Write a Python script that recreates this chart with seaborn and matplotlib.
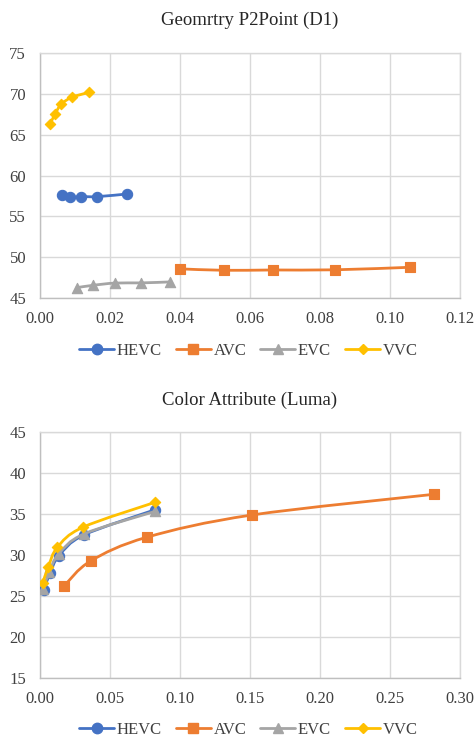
import numpy as np
import pandas as pd
import seaborn as sns
import matplotlib
matplotlib.use("Agg")
import matplotlib.pyplot as plt
from matplotlib.path import Path
from matplotlib.patches import PathPatch
from matplotlib.lines import Line2D
from matplotlib.ticker import FormatStrFormatter, MultipleLocator

# ---- Geometry P2Point (D1): bitrate vs PSNR ----
geo_hevc_x = [0.0064, 0.0085, 0.0116, 0.0164, 0.0248]
geo_hevc_y = [57.62, 57.32, 57.42, 57.42, 57.74]
geo_avc_x = [0.0400, 0.0526, 0.0665, 0.0842, 0.1058]
geo_avc_y = [48.60, 48.42, 48.46, 48.48, 48.79]
geo_evc_x = [0.0105, 0.0150, 0.0214, 0.0288, 0.0370]
geo_evc_y = [46.30, 46.58, 46.86, 46.88, 47.00]
geo_vvc_x = [0.0029, 0.0043, 0.0061, 0.0091, 0.0140]
geo_vvc_y = [66.29, 67.51, 68.73, 69.55, 70.16]

# ---- Color attribute (Luma) ----
luma_hevc_x = [0.0026, 0.0071, 0.0136, 0.0314, 0.0821]
luma_hevc_y = [25.77, 27.80, 29.96, 32.48, 35.55]
luma_avc_x = [0.0174, 0.0362, 0.0762, 0.1512, 0.2814]
luma_avc_y = [26.30, 29.31, 32.20, 34.91, 37.44]
luma_evc_x = [0.0024, 0.0067, 0.0133, 0.0314, 0.0821]
luma_evc_y = [25.95, 27.99, 30.16, 32.60, 35.35]
luma_vvc_x = [0.0019, 0.0060, 0.0124, 0.0305, 0.0821]
luma_vvc_y = [26.59, 28.62, 30.98, 33.41, 36.46]

codecs = ["HEVC", "AVC", "EVC", "VVC"]
colors = {"HEVC": "#4472C4", "AVC": "#ED7D31", "EVC": "#A5A5A5", "VVC": "#FFC000"}
markers = {"HEVC": "o", "AVC": "s", "EVC": "^", "VVC": "D"}
msizes = {"HEVC": 55, "AVC": 55, "EVC": 55, "VVC": 28}

geo = {
    "HEVC": (geo_hevc_x, geo_hevc_y), "AVC": (geo_avc_x, geo_avc_y),
    "EVC": (geo_evc_x, geo_evc_y), "VVC": (geo_vvc_x, geo_vvc_y),
}
luma = {
    "HEVC": (luma_hevc_x, luma_hevc_y), "AVC": (luma_avc_x, luma_avc_y),
    "EVC": (luma_evc_x, luma_evc_y), "VVC": (luma_vvc_x, luma_vvc_y),
}

sns.set_theme(style="white")
plt.rcParams["font.family"] = ["Liberation Serif", "DejaVu Serif"]

GRID = "#d9d9d9"
TEXT = "#404040"


def smooth_path(xs, ys):
    """Cubic Bezier through the points (Catmull-Rom style smoothing)."""
    p = np.column_stack([xs, ys]).astype(float)
    n = len(p)
    verts = [p[0]]
    codes = [Path.MOVETO]
    for i in range(n - 1):
        p0 = p[i - 1] if i > 0 else p[i]
        p1, p2 = p[i], p[i + 1]
        p3 = p[i + 2] if i + 2 < n else p[i + 1]
        c1 = p1 + (p2 - p0) / 6.0
        c2 = p2 - (p3 - p1) / 6.0
        verts += [c1, c2, p2]
        codes += [Path.CURVE4] * 3
    return Path(verts, codes)


def draw_panel(ax, data, title, xmax, xstep, ymin, ymax):
    for k, name in enumerate(codecs):
        xs, ys = data[name]
        patch = PathPatch(smooth_path(xs, ys), facecolor="none",
                          edgecolor=colors[name], lw=2.0, zorder=3 + 2 * k,
                          capstyle="round", joinstyle="round")
        ax.add_patch(patch)
        df = pd.DataFrame({"x": xs, "y": ys})
        sns.scatterplot(data=df, x="x", y="y", ax=ax, marker=markers[name],
                        s=msizes[name], color=colors[name],
                        edgecolor=colors[name], linewidth=0.8,
                        zorder=4 + 2 * k, legend=False)
    ax.set_xlim(0, xmax)
    ax.set_ylim(ymin, ymax)
    ax.xaxis.set_major_locator(MultipleLocator(xstep))
    ax.yaxis.set_major_locator(MultipleLocator(5))
    ax.xaxis.set_major_formatter(FormatStrFormatter("%.2f"))
    ax.set_xlabel("")
    ax.set_ylabel("")
    ax.grid(True, color=GRID, lw=1.0)
    ax.set_axisbelow(True)
    for s in ax.spines.values():
        s.set_color(GRID)
        s.set_linewidth(1.0)
    ax.spines["left"].set_color("#bfbfbf")
    ax.spines["bottom"].set_color("#bfbfbf")
    ax.tick_params(axis="both", length=0, labelsize=12, colors=TEXT)
    ax.tick_params(axis="y", pad=10)
    ax.tick_params(axis="x", pad=9)
    ax.set_title(title, fontsize=13.5, color="#262626", pad=20)


fig = plt.figure(figsize=(4.76, 7.37), dpi=100)
ax1 = fig.add_axes([40 / 476, 1 - 298.3 / 737, 420 / 476, 245.6 / 737])
ax2 = fig.add_axes([40 / 476, 1 - 678.3 / 737, 420 / 476, 246 / 737])

draw_panel(ax1, geo, "Geomrtry P2Point (D1)", 0.12, 0.02, 45, 75)
draw_panel(ax2, luma, "Color Attribute (Luma)", 0.30, 0.05, 15, 45)
for ax in (ax1, ax2):
    for lbl in ax.get_yticklabels():
        lbl.set_verticalalignment("center_baseline")

handles = [Line2D([], [], color=colors[n], lw=2.0, marker=markers[n],
                  markersize=7.5 if n != "VVC" else 5.5, label=n)
           for n in codecs]
for yc in (1 - 351 / 737, 1 - 730 / 737):
    fig.legend(handles=handles, loc="center", bbox_to_anchor=(0.522, yc),
               ncol=4, frameon=False, fontsize=12, handlelength=2.1,
               handletextpad=0.15, columnspacing=0.85, labelcolor=TEXT,
               borderpad=0.0)

fig.savefig("out.png", dpi=100, facecolor="white")
